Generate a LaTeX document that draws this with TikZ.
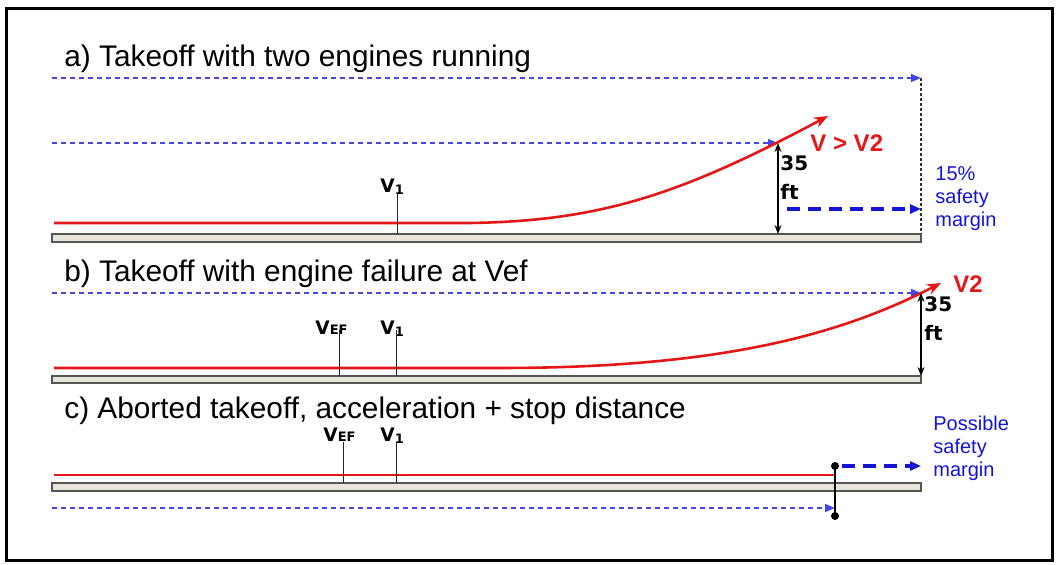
\documentclass[tikz,border=0pt]{standalone}
\usepackage{fontspec}
\setmainfont{Liberation Sans}
\newfontfamily\markfont{DejaVu Sans}
\usetikzlibrary{arrows.meta}

\definecolor{pathred}{RGB}{228,22,22}
\definecolor{distblue}{RGB}{70,70,225}
\definecolor{marginblue}{RGB}{20,20,215}
\definecolor{stripfill}{RGB}{232,230,220}
\definecolor{stripline}{RGB}{85,85,85}

\begin{document}
\begin{tikzpicture}[x=0.5pt,y=-0.5pt,
  runway/.style={draw=stripline,fill=stripfill,line width=0.7pt},
  redpath/.style={draw=pathred,line width=1.3pt},
  redarrow/.style={redpath,-{Stealth[length=7pt,width=5.5pt]}},
  distarrow/.style={draw=distblue,line width=0.75pt,dash pattern=on 2.5pt off 2pt,
    -{Triangle[length=5pt,width=4pt]}},
  marginarrow/.style={draw=marginblue,line width=1.6pt,dash pattern=on 6.5pt off 4pt,
    -{Triangle[length=5.5pt,width=4.5pt]}},
  vtick/.style={draw=black!85,line width=0.5pt},
  heightarrow/.style={draw=black,line width=0.6pt,
    {Stealth[length=4.5pt,width=3.5pt]}-{Stealth[length=4.5pt,width=3.5pt]}},
  paneltitle/.style={anchor=base west,inner sep=0pt,font=\fontsize{14.9}{17}\selectfont},
  vlabel/.style={anchor=base west,inner sep=0pt,font=\markfont\bfseries\fontsize{9.3}{10}\selectfont},
  ftlabel/.style={anchor=north west,inner sep=0pt,align=left,
    font=\markfont\bfseries\fontsize{10}{14.5}\selectfont},
  redlabel/.style={anchor=base west,inner sep=0pt,text=pathred,
    font=\bfseries\fontsize{12}{14}\selectfont},
  bluelabel/.style={anchor=north west,inner sep=0pt,align=left,text=marginblue,
    font=\fontsize{10}{11.5}\selectfont}]
  \useasboundingbox (0,0) rectangle (1057,565);
  % frame
  \draw[line width=1.5pt] (6,9) rectangle (1052,561);

  % a) two engines
  \node[paneltitle] (ta) at (64,67) {a) Takeoff with two engines running};
  \coordinate (topA) at (921,78);
  \coordinate (liftA) at (778,143);
  \coordinate (groundA) at (778,234);
  \draw[runway] (52,234) rectangle (921,242);
  \draw[distarrow] (52,78) -- (topA);
  \draw[black!80,line width=0.6pt,dash pattern=on 1.5pt off 1pt] (topA) -- (921,234);
  \draw[distarrow] (52,143) -- (liftA);
  \draw[redarrow] (54,223) -- (470,223) .. controls (600,221) and (680,195) .. (828,116);
  \node[vlabel] (v1a) at (380,193) {V{\fontsize{6.5}{7}\selectfont\raisebox{-1pt}{1}}};
  \draw[vtick] (397,193) -- (397,234);
  \draw[heightarrow] (liftA) -- (groundA);
  \node[ftlabel] (fta) at (780,155) {35\\ft};
  \node[redlabel] (vva) at (810,152) {V > V2};
  \draw[marginarrow] (787,209) -- (921,209);
  \node[bluelabel] (mara) at (935,166.5) {15\%\\safety\\margin};

  % b) engine failure
  \node[paneltitle] (tb) at (64,282) {b) Takeoff with engine failure at Vef};
  \coordinate (liftB) at (921,293);
  \coordinate (groundB) at (921,376);
  \draw[runway] (52,376) rectangle (921,383);
  \draw[distarrow] (52,293) -- (liftB);
  \draw[redarrow] (54,368) -- (500,368) .. controls (720,368) and (840,335) .. (941,283);
  \node[vlabel] (vefb) at (315,335) {V{\fontsize{6.5}{7}\selectfont EF}};
  \node[vlabel] (v1b) at (380,335) {V{\fontsize{6.5}{7}\selectfont\raisebox{-1pt}{1}}};
  \draw[vtick] (339,330) -- (339,376);
  \draw[vtick] (396,330) -- (396,376);
  \draw[heightarrow] (liftB) -- (groundB);
  \node[ftlabel] (ftb) at (924,296.5) {35\\ft};
  \node[redlabel] (v2b) at (953,293) {V2};

  % c) aborted takeoff
  \node[paneltitle] (tc) at (64,419) {c) Aborted takeoff, acceleration + stop distance};
  \coordinate (stop) at (835,466);
  \coordinate (stopB) at (835,516);
  \draw[runway] (52,483) rectangle (921,491);
  \draw[redpath] (54,475) -- (835,475);
  \node[vlabel] (vefc) at (323,442) {V{\fontsize{6.5}{7}\selectfont EF}};
  \node[vlabel] (v1c) at (380,442) {V{\fontsize{6.5}{7}\selectfont\raisebox{-1pt}{1}}};
  \draw[vtick] (343,442) -- (343,483);
  \draw[vtick] (396,442) -- (396,483);
  \draw[distarrow] (52,508) -- (835,508);
  \draw[black,line width=0.8pt] (stop) -- (stopB);
  \fill (stop) circle (2pt) (stopB) circle (2pt);
  \draw[marginarrow] ([xshift=3.5pt]stop) -- (921,466);
  \node[bluelabel] (marc) at (933,415.5) {Possible\\safety\\margin};
\end{tikzpicture}
\end{document}
